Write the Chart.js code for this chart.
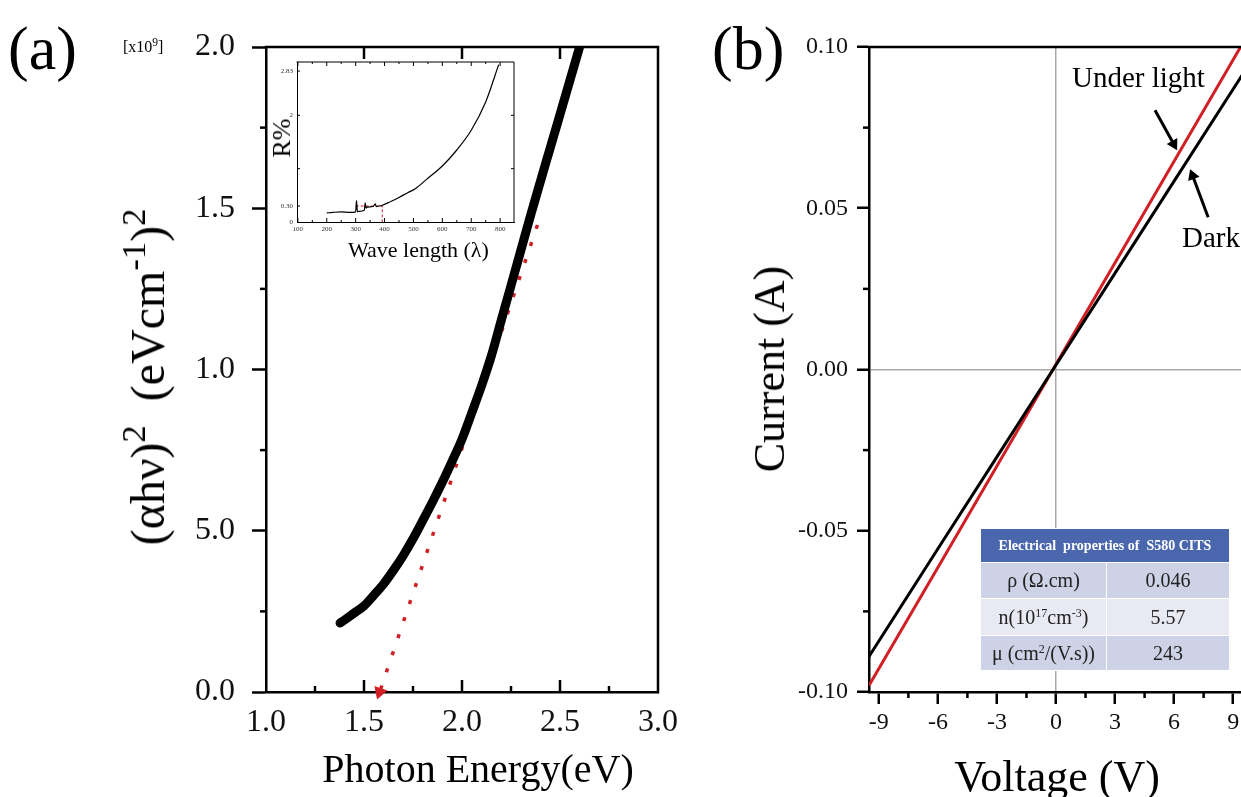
<!DOCTYPE html>
<html>
<head>
<meta charset="utf-8">
<script src="https://cdn.jsdelivr.net/npm/chart.js@4.4.1/dist/chart.umd.min.js"></script>
<style>
html, body { margin: 0; padding: 0; background: #fff; overflow: hidden; }
#wrap { position: relative; width: 1241px; height: 797px; overflow: hidden; font-family: "Liberation Serif", "Times New Roman", serif; color: #000; }
canvas { position: absolute; }
.t { position: absolute; white-space: nowrap; line-height: 1; }
.rot { transform: translate(-50%, -50%) rotate(-90deg); }
.sup { font-size: 0.72em; position: relative; top: -0.55em; }
#props { position: absolute; left: 980px; top: 528px; width: 250px; border-collapse: collapse; font-family: "Liberation Serif", serif; }
#props td { border: 1.5px solid #fff; text-align: center; padding: 0; font-size: 20px; color: #222; }
#props .hd { background: #4a67ad; color: #fff; font-weight: bold; font-size: 14px; height: 33px; }
#props .r1 td, #props .r3 td { background: #cdd2e6; }
#props .r2 td { background: #e8e9f2; }
</style>
</head>
<body>
<div id="wrap">
<canvas id="chartA" width="700" height="797" style="left:0;top:0"></canvas>
<canvas id="chartInset" width="262" height="186" style="left:265px;top:50px"></canvas>
<canvas id="chartB" width="560" height="797" style="left:700px;top:0"></canvas>

<div class="t" style="left:8px;top:17px;font-size:62px">(a)</div>
<div class="t" style="left:123px;top:39px;font-size:16px">[x10<span class="sup">9</span>]</div>
<div class="t rot" style="left:148px;top:377px;font-size:48px">(&alpha;h&nu;)<span class="sup">2</span>&nbsp; (eVcm<span class="sup">-1</span>)<span class="sup">2</span></div>
<div class="t" style="left:478px;top:749px;font-size:40px;transform:translateX(-50%)">Photon Energy(eV)</div>
<div class="t rot" style="left:282px;top:138px;font-size:26px">R%</div>
<div class="t" style="left:348px;top:239px;font-size:22px">Wave length (&lambda;)</div>

<div class="t" style="left:712px;top:17px;font-size:62px">(b)</div>
<div class="t rot" style="left:770px;top:369px;font-size:44px">Current (A)</div>
<div class="t" style="left:1057px;top:755px;font-size:44px;transform:translateX(-50%)">Voltage (V)</div>
<div class="t" style="left:1072px;top:63px;font-size:29px">Under light</div>
<div class="t" style="left:1182px;top:223px;font-size:29px">Dark</div>

<table id="props">
<tr><td class="hd" colspan="2">Electrical&nbsp; properties of&nbsp; S580 CITS</td></tr>
<tr class="r1" style="height:36px"><td style="width:125px">&rho; (&Omega;.cm)</td><td>0.046</td></tr>
<tr class="r2" style="height:37px"><td>n(10<span class="sup" style="font-size:0.6em">17</span>cm<span class="sup" style="font-size:0.6em">-3</span>)</td><td>5.57</td></tr>
<tr class="r3" style="height:35px"><td>&mu; (cm<span class="sup" style="font-size:0.6em">2</span>/(V.s))</td><td>243</td></tr>
</table>
</div>

<script>
// (a) (ahv)^2 vs photon energy
var energy = [1.378, 1.40, 1.45, 1.50, 1.55, 1.60, 1.65, 1.70, 1.75, 1.80, 1.85, 1.90, 1.95, 2.00, 2.05, 2.10, 2.15, 2.20, 2.25, 2.30, 2.35, 2.40, 2.45, 2.50, 2.55, 2.60];
var absorb = [0.214, 0.223, 0.245, 0.267, 0.300, 0.335, 0.377, 0.423, 0.475, 0.532, 0.590, 0.651, 0.716, 0.784, 0.866, 0.950, 1.043, 1.152, 1.260, 1.369, 1.478, 1.583, 1.687, 1.791, 1.895, 2.0];
// red dotted extrapolation to the band gap
var fitE = [2.385, 1.58];
var fitA = [1.448, 0.0];
var aXTicks = [1.0, 1.5, 2.0, 2.5, 3.0];
var aXLabels = ['1.0', '1.5', '2.0', '2.5', '3.0'];
var aYTicks = [0, 0.5, 1.0, 1.5, 2.0];
var aYLabels = ['0.0', '5.0', '1.0', '1.5', '2.0'];

// inset: reflectance
var waveLen = [200, 220, 250, 280, 300, 303, 306, 310, 330, 333, 336, 340, 360, 368, 371, 380, 390, 420, 450, 480, 505, 550, 600, 650, 700, 750, 795];
var reflect = [0.17, 0.18, 0.19, 0.18, 0.19, 0.40, 0.19, 0.20, 0.22, 0.36, 0.26, 0.28, 0.29, 0.34, 0.29, 0.30, 0.31, 0.38, 0.46, 0.55, 0.62, 0.82, 1.05, 1.35, 1.72, 2.25, 2.95];
var markLen = [300, 392, 392];
var markR = [0.3, 0.3, 0];
var inXTicks = [100, 200, 300, 400, 500, 600, 700, 800];
var inXLabels = ['100', '200', '300', '400', '500', '600', '700', '800'];
var inYTicks = [0, 0.3, 2, 2.83];
var inYLabels = ['0', '0.30', '2', '2.83'];

// (b) I-V curves
var volts = [-9.5, -6, -3, 0, 3, 6, 9.5];
var darkI = [-0.089, -0.0556, -0.0271, 0.0014, 0.0299, 0.0584, 0.0917];
var lightI = [-0.098, -0.0614, -0.0299, 0.0016, 0.0331, 0.0646, 0.1013];
var arrowLightV = [5.03, 5.98];
var arrowLightI = [0.0804, 0.0699];
var arrowDarkV = [7.73, 6.94];
var arrowDarkI = [0.0472, 0.0601];
var bXTicks = [-9, -6, -3, 0, 3, 6, 9];
var bXLabels = ['-9', '-6', '-3', '0', '3', '6', '9'];
var bYTicks = [-0.1, -0.05, 0, 0.05, 0.1];
var bYLabels = ['-0.10', '-0.05', '0.00', '0.05', '0.10'];

var RED = '#d01f25';
var serif = '"Liberation Serif", "Times New Roman", serif';

function pts(xs, ys) {
    return xs.map(function(x, i) { return {x: x, y: ys[i]}; });
}
function fixTicks(vals) {
    return function(scale) { scale.ticks = vals.map(function(v) { return {value: v}; }); };
}

// draws the frame (top/right) and extra tick marks; len > 0 points outward
var tickMarks = {
    id: 'tickMarks',
    afterDatasetsDraw: function(chart, args, opts) {
        var ctx = chart.ctx, a = chart.chartArea;
        ctx.save();
        ctx.strokeStyle = '#000';
        ctx.lineWidth = opts.lineWidth;
        ctx.lineCap = 'square';
        ctx.beginPath();
        ctx.moveTo(a.left, a.top);
        ctx.lineTo(a.right, a.top);
        ctx.lineTo(a.right, a.bottom);
        ctx.stroke();
        opts.marks.forEach(function(m) {
            var s = chart.scales[m.axis];
            ctx.lineWidth = m.width || opts.lineWidth;
            ctx.lineCap = 'butt';
            m.values.forEach(function(v) {
                var p = s.getPixelForValue(v);
                ctx.beginPath();
                if (m.side == 'bottom') { ctx.moveTo(p, a.bottom); ctx.lineTo(p, a.bottom + m.len); }
                if (m.side == 'top') { ctx.moveTo(p, a.top); ctx.lineTo(p, a.top - m.len); }
                if (m.side == 'left') { ctx.moveTo(a.left, p); ctx.lineTo(a.left - m.len, p); }
                if (m.side == 'right') { ctx.moveTo(a.right, p); ctx.lineTo(a.right + m.len, p); }
                ctx.stroke();
            });
        });
        ctx.restore();
    }
};

// ---------- panel (a)
new Chart(document.getElementById('chartA'), {
    type: 'scatter',
    data: {
        datasets: [{
            data: pts(energy, absorb),
            showLine: true,
            cubicInterpolationMode: 'monotone',
            borderColor: '#000',
            borderWidth: 9,
            borderCapStyle: 'round',
            borderJoinStyle: 'round',
            pointRadius: 0
        }, {
            data: pts(fitE, fitA),
            showLine: true,
            borderColor: RED,
            borderWidth: 3.5,
            borderDash: [4, 14],
            pointRadius: [0, 8],
            pointStyle: 'triangle',
            pointRotation: [0, 199],
            pointBackgroundColor: RED,
            pointBorderWidth: 0,
            clip: false
        }]
    },
    options: {
        responsive: false,
        animation: false,
        layout: {padding: {left: 0, right: 42, top: 47, bottom: 0}},
        plugins: {
            legend: {display: false},
            tooltip: {enabled: false},
            tickMarks: {
                lineWidth: 2.5,
                marks: [
                    {axis: 'x', side: 'bottom', values: [1.5, 2.0, 2.5], len: -12},
                    {axis: 'x', side: 'bottom', values: [1.25, 1.75, 2.25, 2.75], len: -6},
                    {axis: 'x', side: 'top', values: [1.5, 2.0, 2.5], len: -12},
                    {axis: 'y', side: 'left', values: [0.25, 0.75, 1.25, 1.75], len: 6}
                ]
            }
        },
        scales: {
            x: {
                type: 'linear', min: 1.0, max: 3.0,
                afterBuildTicks: fixTicks(aXTicks),
                afterFit: function(s) { s.height = 105; },
                border: {display: true, color: '#000', width: 2.5},
                grid: {display: true, drawOnChartArea: false, drawTicks: false},
                ticks: {
                    padding: 11, color: '#111', font: {family: serif, size: 32},
                    maxRotation: 0, autoSkip: false,
                    callback: function(v, i) { return aXLabels[i]; }
                }
            },
            y: {
                type: 'linear', min: 0, max: 2.0,
                afterBuildTicks: fixTicks(aYTicks),
                afterFit: function(s) { s.width = 266; },
                border: {display: true, color: '#000', width: 2.5},
                grid: {drawOnChartArea: false, tickLength: 14, tickColor: '#000', tickWidth: 2.5},
                ticks: {
                    padding: 17, color: '#111', font: {family: serif, size: 32},
                    autoSkip: false,
                    callback: function(v, i) { return aYLabels[i]; }
                }
            }
        }
    },
    plugins: [tickMarks]
});

// ---------- inset
new Chart(document.getElementById('chartInset'), {
    type: 'scatter',
    data: {
        datasets: [{
            data: pts(waveLen, reflect),
            showLine: true,
            cubicInterpolationMode: 'monotone',
            borderColor: '#000',
            borderWidth: 1.2,
            pointRadius: 0
        }, {
            data: pts(markLen, markR),
            showLine: true,
            borderColor: RED,
            borderWidth: 1,
            borderDash: [3, 2],
            pointRadius: 0
        }]
    },
    options: {
        responsive: false,
        animation: false,
        layout: {padding: {left: 0, right: 13, top: 12, bottom: 0}},
        plugins: {
            legend: {display: false},
            tooltip: {enabled: false},
            tickMarks: {
                lineWidth: 1,
                marks: [
                    {axis: 'x', side: 'bottom', values: inXTicks, len: -4},
                    {axis: 'x', side: 'bottom', values: [150, 250, 350, 450, 550, 650, 750], len: -2},
                    {axis: 'x', side: 'top', values: inXTicks, len: -4},
                    {axis: 'x', side: 'top', values: [150, 250, 350, 450, 550, 650, 750], len: -2},
                    {axis: 'y', side: 'left', values: [0.3, 1, 2, 2.83], len: -3},
                    {axis: 'y', side: 'right', values: [1, 2], len: -3}
                ]
            }
        },
        scales: {
            x: {
                type: 'linear', min: 97, max: 848,
                afterBuildTicks: fixTicks(inXTicks),
                afterFit: function(s) { s.height = 14; },
                border: {display: true, color: '#000', width: 1},
                grid: {display: true, drawOnChartArea: false, drawTicks: false},
                ticks: {
                    padding: 3, color: '#333', font: {family: serif, size: 7},
                    maxRotation: 0, autoSkip: false,
                    callback: function(v, i) { return inXLabels[i]; }
                }
            },
            y: {
                type: 'linear', min: 0, max: 3.0,
                afterBuildTicks: fixTicks(inYTicks),
                afterFit: function(s) { s.width = 32; },
                border: {display: true, color: '#000', width: 1},
                grid: {display: true, drawOnChartArea: false, drawTicks: false},
                ticks: {
                    padding: 4, color: '#333', font: {family: serif, size: 7},
                    autoSkip: false,
                    callback: function(v, i) { return inYLabels[i]; }
                }
            }
        }
    },
    plugins: [tickMarks]
});

// ---------- panel (b)
function zeroColor(c) { return c.tick && c.tick.value === 0 ? '#a8a8a8' : 'rgba(0,0,0,0)'; }

new Chart(document.getElementById('chartB'), {
    type: 'scatter',
    data: {
        datasets: [{
            data: pts(volts, darkI),
            showLine: true,
            borderColor: '#000',
            borderWidth: 3,
            pointRadius: 0
        }, {
            data: pts(volts, lightI),
            showLine: true,
            borderColor: RED,
            borderWidth: 3,
            pointRadius: 0
        }, {
            data: pts(arrowLightV, arrowLightI),
            showLine: true,
            borderColor: '#000',
            borderWidth: 3,
            pointRadius: [0, 7],
            pointStyle: 'triangle',
            pointRotation: [0, 151],
            pointBackgroundColor: '#000',
            pointBorderWidth: 0
        }, {
            data: pts(arrowDarkV, arrowDarkI),
            showLine: true,
            borderColor: '#000',
            borderWidth: 3,
            pointRadius: [0, 7],
            pointStyle: 'triangle',
            pointRotation: [0, 339],
            pointBackgroundColor: '#000',
            pointBorderWidth: 0
        }]
    },
    options: {
        responsive: false,
        animation: false,
        layout: {padding: {left: 0, right: 17, top: 47, bottom: 0}},
        plugins: {
            legend: {display: false},
            tooltip: {enabled: false},
            tickMarks: {
                lineWidth: 2.5,
                marks: [
                    {axis: 'x', side: 'bottom', values: [-7.5, -4.5, -1.5, 1.5, 4.5, 7.5], len: 6},
                    {axis: 'y', side: 'left', values: [-0.075, -0.025, 0.025, 0.075], len: 6}
                ]
            }
        },
        scales: {
            x: {
                type: 'linear', min: -9.5, max: 9.5,
                afterBuildTicks: fixTicks(bXTicks),
                afterFit: function(s) { s.height = 105; },
                border: {display: true, color: '#000', width: 2.5},
                grid: {color: zeroColor, lineWidth: 1.5, tickLength: 12, tickColor: '#000', tickWidth: 2.5},
                ticks: {
                    padding: 4, color: '#111', font: {family: serif, size: 24},
                    maxRotation: 0, autoSkip: false,
                    callback: function(v, i) { return bXLabels[i]; }
                }
            },
            y: {
                type: 'linear', min: -0.1, max: 0.1,
                afterBuildTicks: fixTicks(bYTicks),
                afterFit: function(s) { s.width = 169; },
                border: {display: true, color: '#000', width: 2.5},
                grid: {color: zeroColor, lineWidth: 1.5, tickLength: 12, tickColor: '#000', tickWidth: 2.5},
                ticks: {
                    padding: 9, color: '#111', font: {family: serif, size: 24},
                    autoSkip: false,
                    callback: function(v, i) { return bYLabels[i]; }
                }
            }
        }
    },
    plugins: [tickMarks]
});
</script>
</body>
</html>
